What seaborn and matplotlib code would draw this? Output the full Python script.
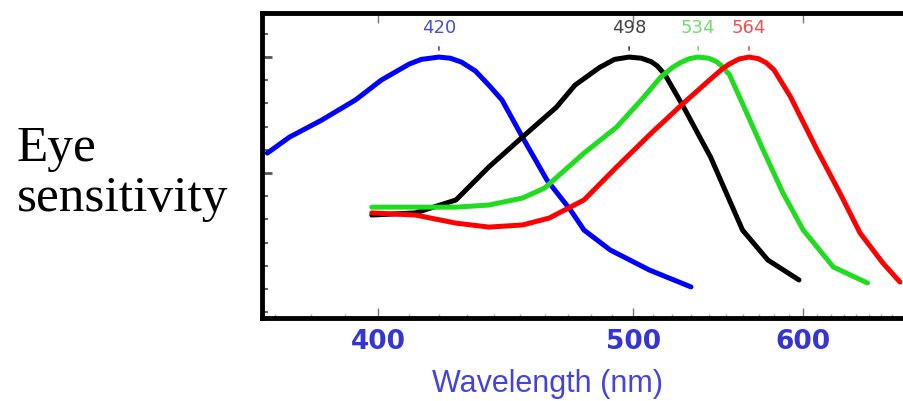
import numpy as np
import pandas as pd
import matplotlib
matplotlib.use('Agg')
import matplotlib.pyplot as plt
import seaborn as sb
from matplotlib.ticker import FixedLocator, MultipleLocator

# curvas (longitud de onda nm, sensibilidad normalizada)
blue_nm = [368, 374, 383, 393, 401, 410, 414, 420, 424, 428, 433, 438, 443, 451, 461, 471, 477, 489, 508, 530]
blue_s = [0.586, 0.655, 0.728, 0.815, 0.901, 0.970, 0.990, 1.0, 0.995, 0.978, 0.94, 0.879, 0.815, 0.655, 0.470, 0.341, 0.254, 0.168, 0.082, 0.009]

black_nm = [398, 412, 426, 438, 451, 465, 473, 484, 491, 498, 504, 509, 512, 516, 526, 541, 552, 560, 576, 597]
black_s = [0.319, 0.328, 0.384, 0.526, 0.655, 0.784, 0.879, 0.955, 0.99, 1.0, 0.995, 0.98, 0.962, 0.925, 0.784, 0.569, 0.384, 0.254, 0.125, 0.039]

green_nm = [398, 414, 426, 438, 451, 460, 477, 492, 504, 514, 520, 524, 529, 534, 540, 544, 547, 552, 559, 573, 586, 600, 622, 649]
green_s = [0.353, 0.353, 0.353, 0.362, 0.392, 0.435, 0.586, 0.698, 0.815, 0.915, 0.955, 0.975, 0.993, 1.0, 0.995, 0.982, 0.965, 0.925, 0.815, 0.599, 0.414, 0.254, 0.095, 0.026]

red_nm = [398, 412, 426, 438, 451, 462, 477, 492, 509, 526, 541, 548, 552, 558, 564, 570, 575, 580, 591, 610, 627, 643, 662, 677]
red_s = [0.328, 0.319, 0.284, 0.267, 0.276, 0.306, 0.384, 0.526, 0.672, 0.802, 0.905, 0.950, 0.970, 0.992, 1.0, 0.993, 0.975, 0.945, 0.830, 0.599, 0.414, 0.241, 0.112, 0.030]

PEAKS = [420, 498, 534, 564]
CURVAS = ['azul', 'negro', 'verde', 'rojo']
X_TICKS = [400, 500, 600]

colores = {'azul': '#0000ff', 'negro': '#000000', 'verde': '#1fdc1f', 'rojo': '#ff0000'}
colores_txt = {'azul': '#4b4bd6', 'negro': '#444444', 'verde': '#6be06b', 'rojo': '#f05050'}

df = pd.concat([
    pd.DataFrame({'nm': blue_nm, 's': blue_s, 'curva': 'azul'}),
    pd.DataFrame({'nm': black_nm, 's': black_s, 'curva': 'negro'}),
    pd.DataFrame({'nm': green_nm, 's': green_s, 'curva': 'verde'}),
    pd.DataFrame({'nm': red_nm, 's': red_s, 'curva': 'rojo'}),
])

sb.set_theme(style='white')

fig = plt.figure(figsize=(9.04, 4.01), dpi=100)
ax = fig.add_axes([262 / 904, 83 / 401, 650 / 904, 305 / 401])

# escala reciproca (numero de onda) como en el original
ax.set_xscale('function', functions=(lambda x: -1e4 / np.maximum(x, 1), lambda y: -1e4 / np.minimum(y, -1e-9)))

sb.lineplot(data=df, x='nm', y='s', hue='curva', palette=colores, hue_order=CURVAS,
            estimator=None, sort=False, linewidth=3.6, legend=False, ax=ax)
for ln in ax.get_lines():
    ln.set_solid_joinstyle('round')
    ln.set_solid_capstyle('round')

ax.set_xlim(366.6, 688)
ax.set_ylim(-0.125, 1.19)

for c, p in zip(CURVAS, PEAKS):
    ax.annotate(str(p), xy=(p, 1.03), xytext=(p, 1.127), ha='center', va='center',
                fontsize=13, color=colores_txt[c],
                arrowprops=dict(arrowstyle='-', color=colores_txt[c], lw=1.2, shrinkA=5, shrinkB=0))

for s in ax.spines.values():
    s.set_linewidth(3.5)
    s.set_color('black')

ax.xaxis.set_major_locator(FixedLocator(X_TICKS))
ax.xaxis.set_minor_locator(MultipleLocator(10))
ax.set_xticklabels([str(t) for t in X_TICKS])
ax.tick_params(axis='x', which='major', direction='in', length=7, width=1, color='#777777',
               bottom=True, top=True, pad=8, labelsize=19, labelcolor='#3535d5')
ax.tick_params(axis='x', which='minor', direction='in', length=3, width=1, color='#aaaaaa',
               bottom=True, top=False)
for lb in ax.get_xticklabels():
    lb.set_fontweight('bold')

ax.yaxis.set_major_locator(FixedLocator([0.5, 1.0]))
ax.yaxis.set_minor_locator(MultipleLocator(0.1))
ax.tick_params(axis='y', which='major', direction='in', length=7, width=2, color='#555555',
               left=True, labelleft=False)
ax.tick_params(axis='y', which='minor', direction='in', length=4, width=1.5, color='#666666', left=True)
ax.set_xlabel('')
ax.set_ylabel('')

fig.text(548 / 904, 1 - 384 / 401, 'Wavelength (nm)', ha='center', va='center',
         fontsize=22, color='#4444dd', family=['Liberation Sans', 'DejaVu Sans'])
fig.text(17 / 904, 1 - 174 / 401, 'Eye\nsensitivity', ha='left', va='center', linespacing=1.1,
         fontsize=37, color='black', family=['Liberation Serif', 'DejaVu Serif'])

fig.savefig('out.png', dpi=100)
